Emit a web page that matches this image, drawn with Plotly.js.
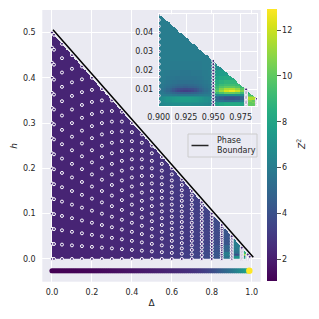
<!DOCTYPE html>
<html>
<head>
<meta charset="utf-8">
<script src="https://cdn.plot.ly/plotly-3.0.1.min.js"></script>
<style>html,body{margin:0;padding:0;background:#fff;overflow:hidden}</style>
</head>
<body>
<div id="chart" style="width:319px;height:319px"></div>
<script>
// ---- data ----
const xTicks = [0, 0.2, 0.4, 0.6, 0.8, 1.0];
const yTicks = [0, 0.1, 0.2, 0.3, 0.4, 0.5];
const insetXTicks = [0.9, 0.925, 0.95, 0.975];
const insetYTicks = [0.01, 0.02, 0.03, 0.04];
const barTicks = [2, 4, 6, 8, 10, 12];
const zMin = 1.03, zMax = 12.9;

const boundaryDelta = [0.005, 1.008];
const boundaryH = [0.506, 0.004];

// coarse Z table for the main triangle (rows: h, columns: delta)
const mainDelta = [0,0.05,0.1,0.15,0.2,0.25,0.3,0.35,0.4,0.45,0.5,0.55,0.6,0.65,0.7,0.75,0.8,0.85];
const mainH = [0.002, 0.01, 0.02, 0.04, 0.1, 0.5];
const mainZ = [
 [2.2,2.2,2.2,2.2,2.25,2.3,2.3,2.4,2.45,2.55,2.7,2.85,3.0,3.2,3.4,3.7,4.1,5.6],
 [2.2,2.2,2.2,2.2,2.25,2.3,2.3,2.4,2.45,2.55,2.7,2.85,3.0,3.2,3.4,3.7,4.2,6.0],
 [2.2,2.2,2.2,2.2,2.25,2.3,2.3,2.4,2.45,2.55,2.65,2.8,2.95,3.1,3.3,3.6,4.0,4.9],
 [2.2,2.2,2.2,2.2,2.25,2.3,2.3,2.4,2.45,2.55,2.65,2.75,2.9,3.0,3.2,3.4,3.7,4.2],
 [2.2,2.2,2.2,2.2,2.25,2.3,2.3,2.4,2.45,2.55,2.65,2.75,2.9,3.0,3.2,3.4,3.7,4.1],
 [2.2,2.2,2.2,2.2,2.25,2.3,2.3,2.4,2.45,2.55,2.65,2.75,2.9,3.0,3.2,3.4,3.7,4.1]
];

// Z table for delta >= 0.9 (shown in the inset and at the tip of the main triangle)
const tipDelta = [0.9,0.9025,0.905,0.9075,0.91,0.9125,0.915,0.9175,0.92,0.9225,0.925,0.9275,0.93,0.9325,0.935,0.9375,0.94,0.9425,0.945,0.9475,
                  0.95,0.955,0.96,0.965,0.97,0.975,0.982,0.986];
const tipH = [0.002,0.003,0.004,0.005,0.006,0.007,0.008,0.009,0.010,0.011,0.012,0.014,0.016,0.018,0.022,0.028,0.035,0.045];
const tipZ = [
 [6.5,6.5,6.6,6.7,6.7,6.8,6.8,6.8,6.9,6.9,6.9,6.9,6.8,6.8,6.8,6.7,6.7,6.6,6.5,6.5, 7.6,8.0,8.2,8.2,8.2,8.0, 10,10],
 [6.6,6.7,6.8,6.9,7.0,7.1,7.1,7.2,7.2,7.2,7.2,7.2,7.2,7.1,7.1,7.0,6.9,6.8,6.7,6.6, 7.2,7.7,7.9,7.9,7.9,7.7, 10,10.5],
 [6.7,6.8,7.0,7.1,7.2,7.4,7.5,7.5,7.6,7.6,7.6,7.6,7.5,7.5,7.4,7.2,7.1,7.0,6.8,6.7, 5.9,5.6,5.3,5.3,5.5,6.0, 10.5,10],
 [6.7,6.8,7.0,7.2,7.3,7.4,7.5,7.6,7.7,7.7,7.7,7.7,7.6,7.5,7.4,7.3,7.1,6.9,6.8,6.7, 5.0,4.5,4.1,4.0,4.2,4.8, 11.5,11.5],
 [6.4,6.5,6.6,6.7,6.8,6.8,6.9,6.9,6.9,6.9,6.9,6.9,6.9,6.8,6.8,6.7,6.6,6.5,6.4,6.4, 5.5,5.0,4.6,4.5,4.6,5.1, 10.5,10.5],
 [6.0,6.0,6.0,5.9,5.9,5.8,5.8,5.7,5.7,5.7,5.7,5.7,5.7,5.8,5.8,5.9,5.9,6.0,6.0,6.0, 6.8,6.9,7.0,7.0,7.0,6.9, 9.5,9],
 [5.9,5.8,5.6,5.4,5.2,5.0,4.8,4.7,4.6,4.6,4.6,4.6,4.7,4.8,5.0,5.2,5.4,5.6,5.8,5.9, 9.0,9.6,10.2,10.2,10,9.2, 8.5,8.5],
 [5.8,5.6,5.3,5.0,4.6,4.2,3.8,3.5,3.3,3.2,3.2,3.3,3.5,3.8,4.2,4.6,5.0,5.3,5.6,5.8, 10,11.2,12.2,12.6,12,10.5, 8.5,8.5],
 [5.8,5.6,5.4,5.1,4.8,4.4,4.1,3.9,3.8,3.7,3.7,3.8,3.9,4.1,4.4,4.8,5.1,5.4,5.6,5.8, 9.4,10.6,11.4,11.5,10.9,9.8, 8.5,8.5],
 [5.9,5.8,5.6,5.4,5.2,5.0,4.8,4.7,4.7,4.6,4.6,4.7,4.7,4.8,5.0,5.2,5.4,5.6,5.8,5.9, 9.0,9.7,10,10,9.7,9.0, 8.5,8.5],
 [5.9,5.8,5.7,5.6,5.4,5.3,5.2,5.1,5.1,5.0,5.0,5.1,5.1,5.2,5.3,5.4,5.6,5.7,5.8,5.9, 8.6,9.1,9.3,9.3,9.1,8.8, 8.5,8.5],
 [6.0,5.9,5.8,5.7,5.6,5.5,5.5,5.4,5.4,5.4,5.4,5.4,5.4,5.5,5.5,5.6,5.7,5.8,5.9,6.0, 8.2,8.6,8.8,8.8,8.8,8.8, 8.5,8.5],
 [6.0,5.9,5.9,5.8,5.7,5.7,5.6,5.6,5.6,5.6,5.6,5.6,5.6,5.6,5.7,5.7,5.8,5.9,5.9,6.0, 7.8,8.1,8.2,8.2,8.2,8.2, 8.5,8.5],
 [6.0,6.0,5.9,5.9,5.8,5.8,5.8,5.8,5.7,5.7,5.7,5.7,5.8,5.8,5.8,5.8,5.9,5.9,6.0,6.0, 7.4,7.6,7.7,7.7,7.7,7.7, 8.5,8.5],
 [6.0,6.0,6.0,6.0,5.9,5.9,5.9,5.9,5.9,5.9,5.9,5.9,5.9,5.9,5.9,5.9,6.0,6.0,6.0,6.0, 6.7,6.8,6.8,6.8,6.8,6.8, 8.5,8.5],
 [6.0,6.0,6.0,6.0,6.0,6.0,6.0,6.0,6.0,6.0,6.0,6.0,6.0,6.0,6.0,6.0,6.0,6.0,6.0,6.0, 6.4,6.4,6.4,6.4,6.4,6.4, 8.5,8.5],
 [6.0,6.0,6.0,6.0,6.0,6.0,6.0,6.0,6.0,6.0,6.0,6.0,6.0,6.0,6.0,6.0,6.0,6.0,6.0,6.0, 6.4,6.4,6.4,6.4,6.4,6.4, 8.5,8.5],
 [6.0,6.0,6.0,6.0,6.0,6.0,6.0,6.0,6.0,6.0,6.0,6.0,6.0,6.0,6.0,6.0,6.0,6.0,6.0,6.0, 6.4,6.4,6.4,6.4,6.4,6.4, 8.5,8.5]
];
const gapFrom = 0.979, gapTo = 0.9818;

// sampled columns: delta and the largest h of each column, with shared fractions along it
const sampleDelta = [0,0.01,0.05,0.1,0.15,0.2,0.25,0.3,0.35,0.4,0.45,0.5,0.55,0.6,0.65,0.7,0.75,0.8,0.85,0.9,0.95,0.98,0.99];
const sampleTop = [0.5,0.495,0.475,0.45,0.425,0.4,0.375,0.35,0.325,0.3,0.275,0.25,0.225,0.2,0.175,0.15,0.125,0.1,0.075,0.05,0.025,0.01,0.005];
const sampleFrac = [0,0.0667,0.1333,0.2,0.2667,0.3333,0.4,0.4667,0.5333,0.6,0.6667,0.7333,0.8,0.8667,0.9333,1];

// strip of h = 0 values drawn under the axis
const stripDelta = [0,0.01,0.02,0.03,0.04,0.05,0.06,0.07,0.08,0.09,
 0.1,0.11,0.12,0.13,0.14,0.15,0.16,0.17,0.18,0.19,
 0.2,0.21,0.22,0.23,0.24,0.25,0.26,0.27,0.28,0.29,
 0.3,0.31,0.32,0.33,0.34,0.35,0.36,0.37,0.38,0.39,
 0.4,0.41,0.42,0.43,0.44,0.45,0.46,0.47,0.48,0.49,
 0.5,0.51,0.52,0.53,0.54,0.55,0.56,0.57,0.58,0.59,
 0.6,0.61,0.62,0.63,0.64,0.65,0.66,0.67,0.68,0.69,
 0.7,0.71,0.72,0.73,0.74,0.75,0.76,0.77,0.78,0.79,
 0.8,0.81,0.82,0.83,0.84,0.85,0.86,0.87,0.88,0.89,
 0.9,0.91,0.92,0.93,0.94,0.95,0.96,0.97,0.98];
const stripZ = [1.03,1.03,1.03,1.04,1.04,1.05,1.05,1.06,1.06,1.07,
 1.08,1.09,1.1,1.11,1.12,1.13,1.14,1.15,1.16,1.18,
 1.2,1.22,1.24,1.26,1.28,1.3,1.32,1.34,1.36,1.38,
 1.4,1.42,1.44,1.47,1.5,1.52,1.55,1.58,1.6,1.63,
 1.66,1.69,1.72,1.75,1.78,1.81,1.84,1.87,1.9,1.93,
 1.96,1.99,2.02,2.05,2.08,2.11,2.14,2.17,2.2,2.23,
 2.26,2.3,2.33,2.36,2.4,2.44,2.48,2.52,2.56,2.6,
 2.65,2.7,2.76,2.82,2.9,3.0,3.1,3.2,3.3,3.45,
 3.6,3.75,3.9,4.1,4.3,4.5,4.7,4.9,5.1,5.3,
 5.5,5.7,5.95,6.2,6.5,6.8,7.1,7.5,8.0];
const stripEndDelta = [0.988];
const stripEndZ = [12.9];
const stripH = -0.026;

const legendLines = 'Phase<br>Boundary';
const markerFace = '#4a2a7c';
const ink = '#262626', panel = '#eaeaf2';

// ---- helpers: nearest / last-entry lookup in the tables above ----
function nearest(list, v) {
  let best = 0;
  for (let i = 1; i < list.length; i++) if (Math.abs(list[i] - v) < Math.abs(list[best] - v)) best = i;
  return best;
}
function lastBelow(list, v) {
  let best = 0;
  for (let i = 0; i < list.length; i++) if (list[i] <= v) best = i;
  return best;
}
function lookup(d, h) {
  if (h > (1 - d) / 2 || d > 0.99) return null;
  if (d >= gapFrom && d < gapTo) return null;
  if (d >= 0.9) return tipZ[nearest(tipH, h)][lastBelow(tipDelta, d)];
  return mainZ[nearest(mainH, h)][lastBelow(mainDelta, d)];
}
function grid(x0, x1, dx, y0, y1, dy) {
  const xs = [], ys = [], zs = [];
  for (let x = x0; x < x1; x += dx) xs.push(x + dx / 2);
  for (let y = y0; y < y1; y += dy) ys.push(y + dy / 2);
  ys.forEach(y => zs.push(xs.map(x => lookup(x, y))));
  return {x: xs, y: ys, z: zs};
}
const sx = [], sy = [], ix = [], iy = [];
sampleDelta.forEach((d, i) => sampleFrac.forEach(f => {
  sx.push(d); sy.push(f * sampleTop[i]);
  if (d >= 0.9) { ix.push(d); iy.push(f * sampleTop[i]); }
}));

const mainGrid = grid(0, 0.992, 0.004, 0, 0.5, 0.0022);
const tipGrid = grid(0.9, 0.991, 0.001, 0.001, 0.05, 0.0006);
const ringMarker = {size: 3, color: markerFace, line: {color: '#ffffff', width: 1}};

const traces = [
  {type:'heatmap', x:mainGrid.x, y:mainGrid.y, z:mainGrid.z, coloraxis:'coloraxis', hoverinfo:'skip', showlegend:false},
  {type:'scatter', mode:'markers', x:sx, y:sy, marker:ringMarker, hoverinfo:'skip', showlegend:false},
  {type:'scatter', mode:'lines', x:boundaryDelta, y:boundaryH, name:'Phase Boundary', line:{color:'#000000', width:1.5}, showlegend:false},
  {type:'scatter', mode:'markers', x:stripDelta, y:stripDelta.map(() => stripH), marker:{size:5.2, color:stripZ, coloraxis:'coloraxis', line:{width:0}}, hoverinfo:'skip', showlegend:false},
  {type:'scatter', mode:'markers', x:stripEndDelta, y:[stripH], marker:{size:6.5, color:stripEndZ, coloraxis:'coloraxis', line:{width:0}}, hoverinfo:'skip', showlegend:false},
  {type:'heatmap', x:tipGrid.x, y:tipGrid.y, z:tipGrid.z, xaxis:'x2', yaxis:'y2', coloraxis:'coloraxis', hoverinfo:'skip', showlegend:false},
  {type:'scatter', mode:'markers', x:ix, y:iy, xaxis:'x2', yaxis:'y2', marker:ringMarker, hoverinfo:'skip', showlegend:false}
];

const W = 319;
const font = {family:'"DejaVu Sans", sans-serif', size:8, color:ink};
const layout = {
  width:W, height:W, font:font,
  margin:{l:0, r:0, t:0, b:0, pad:0, autoexpand:false},
  paper_bgcolor:'#ffffff', plot_bgcolor:panel,
  xaxis:{domain:[42.3/W, 260.7/W], range:[-0.0485, 1.045], tickvals:xTicks, ticktext:['0.0','0.2','0.4','0.6','0.8','1.0'],
    showgrid:true, gridcolor:'#ffffff', gridwidth:1, zeroline:false, showline:false, ticks:'outside', ticklen:3, tickcolor:'rgba(0,0,0,0)',
    title:{text:'Δ', font:{size:9, color:ink}, standoff:3}, automargin:false},
  yaxis:{domain:[1-281.7/W, 1-10/W], range:[-0.0502, 0.5497], tickvals:yTicks, ticktext:['0.0','0.1','0.2','0.3','0.4','0.5'],
    showgrid:true, gridcolor:'#ffffff', gridwidth:1, zeroline:false, showline:false, ticks:'outside', ticklen:4, tickcolor:'rgba(0,0,0,0)',
    title:{text:'<i>h</i>', font:{size:9, color:ink}, standoff:3}, automargin:false},
  xaxis2:{domain:[158.7/W, 257.3/W], range:[0.9, 0.9903], anchor:'y2', tickvals:insetXTicks, ticktext:['0.900','0.925','0.950','0.975'],
    showgrid:true, gridcolor:'#ffffff', gridwidth:1, zeroline:false, showline:true, linecolor:'#ffffff', linewidth:1, mirror:true,
    ticks:'outside', ticklen:3, tickcolor:'rgba(0,0,0,0)', automargin:false},
  yaxis2:{domain:[1-106/W, 1-14.3/W], range:[0.00116, 0.0497], anchor:'x2', tickvals:insetYTicks, ticktext:['0.01','0.02','0.03','0.04'],
    showgrid:true, gridcolor:'#ffffff', gridwidth:1, zeroline:false, showline:true, linecolor:'#ffffff', linewidth:1, mirror:true,
    ticks:'outside', ticklen:3, tickcolor:'rgba(0,0,0,0)', automargin:false},
  coloraxis:{cmin:zMin, cmax:zMax, colorscale:'Viridis',
    colorbar:{x:267.3/W, xanchor:'left', xpad:0, y:1-281.5/W, yanchor:'bottom', ypad:0, len:271.5, lenmode:'pixels',
      thickness:9.7, thicknessmode:'pixels', outlinewidth:0, tickmode:'array', tickvals:barTicks, ticks:'outside', ticklen:4,
      tickcolor:ink, tickwidth:0.8, tickfont:{size:8, color:ink}}},
  showlegend:false,
  shapes:[
    {type:'rect', xref:'paper', yref:'paper', x0:188/W, x1:257/W, y0:1-157/W, y1:1-134/W,
     fillcolor:'rgba(234,234,242,0.8)', line:{color:'#cccccc', width:1}},
    {type:'line', xref:'paper', yref:'paper', x0:191.5/W, x1:208.5/W, y0:1-145.5/W, y1:1-145.5/W, line:{color:'#262626', width:1.5}}
  ],
  annotations:[
    {xref:'paper', yref:'paper', x:215/W, y:1-145.3/W, xanchor:'left', yanchor:'middle', align:'left', text:legendLines, showarrow:false, font:{size:8, color:ink}},
    {xref:'paper', yref:'paper', x:301/W, y:1-145/W, xanchor:'center', yanchor:'middle', text:'<i>Z</i><sup>2</sup>', textangle:-90, showarrow:false, font:{size:9, color:ink}}
  ]
};
Plotly.newPlot('chart', traces, layout, {displayModeBar:false, staticPlot:true});
</script>
</body>
</html>
